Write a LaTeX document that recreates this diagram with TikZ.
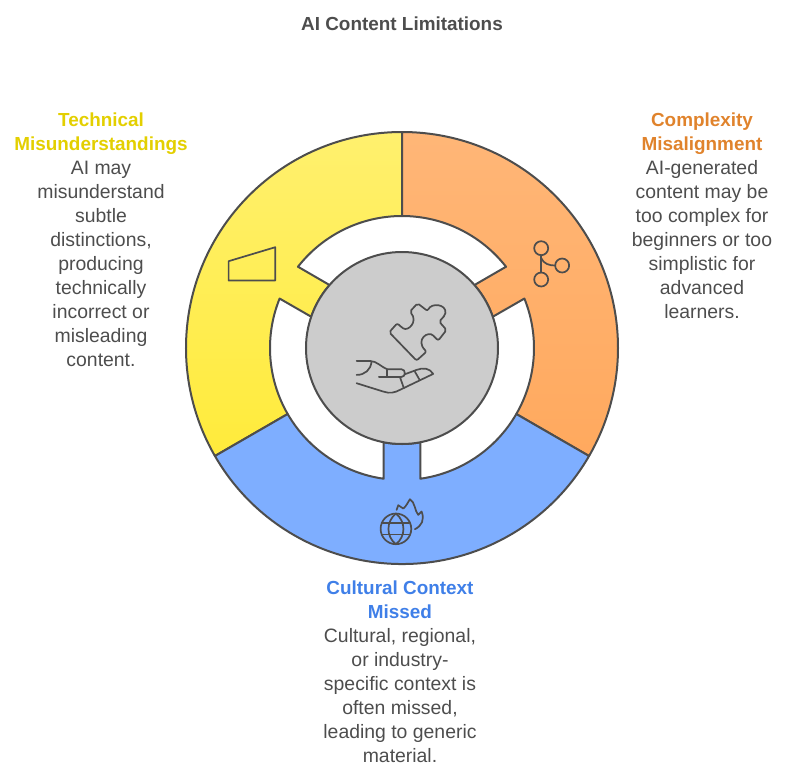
\documentclass[tikz,border=0pt]{standalone}
\usepackage{fontspec}
\setmainfont{Liberation Sans}
\definecolor{edgegray}{HTML}{4D4D4D}
\definecolor{hubgray}{HTML}{CCCCCC}
\definecolor{techyellow}{HTML}{E3CF00}
\definecolor{comporange}{HTML}{E0832C}
\definecolor{cultblue}{HTML}{3F7FE8}
\definecolor{yellowtop}{HTML}{FFF06E}
\definecolor{yellowlow}{HTML}{FFEB3B}
\definecolor{orangetop}{HTML}{FFB677}
\definecolor{orangelow}{HTML}{FFA95E}
\definecolor{bluefill}{HTML}{7EAEFF}
\tikzset{
  seg/.style={draw=edgegray, line width=2pt, line join=round},
  icon/.style={draw=edgegray, line width=1.7pt, line join=round, line cap=round},
  note/.style={anchor=north, align=center, text=edgegray, inner sep=0pt, font=\fontsize{19.4}{24}\selectfont},
}
\newcommand{\headtext}[2]{\textcolor{#1}{\fontsize{18.9}{24}\selectfont\textbf{#2}}}
\begin{document}
\begin{tikzpicture}[x=1pt,y=1pt]
\useasboundingbox (-402,-432) rectangle (390,348);
% ring segments
\draw[seg, top color=yellowtop, bottom color=yellowlow] (90:216) arc (90:210:216) -- (210:132) arc (210:158:132) -- (161:96) arc (161:139:96) -- (142:132) arc (142:90:132) -- cycle;
\draw[seg, top color=orangetop, bottom color=orangelow] (90:216) arc (90:-30:216) -- (-30:132) arc (-30:22:132) -- (19:96) arc (19:41:96) -- (38:132) arc (38:90:132) -- cycle;
\draw[seg, fill=bluefill] (210:216) arc (210:330:216) -- (330:132) arc (330:278:132) -- (281:96) arc (281:259:96) -- (262:132) arc (262:210:132) -- cycle;
\node[circle, draw=edgegray, fill=hubgray, line width=2pt, minimum size=192pt, inner sep=0pt] (hub) at (0,0) {};
% puzzle and hand
\begin{scope}[shift={(-102,68)}, x=0.333pt, y=-0.333pt]
\draw[icon, rounded corners=2pt] (268,157) -- (292,130) -- (305,142) .. controls (325,155) and (355,125) .. (330,95) -- (353,70) -- (383,93) .. controls (395,68) and (440,72) .. (436,105) -- (418,125) -- (440,150) -- (415,182) -- (405,172) .. controls (385,150) and (345,180) .. (380,215) -- (350,242) -- cycle;
\draw[icon] (170,243) -- (210,243) .. controls (230,243) and (245,262) .. (262,268) -- (305,268) .. controls (318,268) and (318,291) .. (305,291) -- (237,291);
\draw[icon] (262,268) -- (262,291);
\draw[icon] (215,245) .. controls (212,270) and (195,285) .. (170,285);
\draw[icon] (170,310) -- (250,335) .. controls (270,342) and (285,338) .. (300,330) -- (400,282) .. controls (390,265) and (370,262) .. (350,270) -- (315,283);
\draw[icon] (300,291) -- (312,325);
\draw[icon] (345,275) -- (358,298);
\end{scope}
% trapezoid
\begin{scope}[shift={(-232,228)}, x=0.333pt, y=-0.333pt]
\draw[icon] (176,424) -- (316,382) -- (316,482) -- (176,482) -- cycle;
\end{scope}
% branch
\begin{scope}[shift={(-2,228)}, x=0.333pt, y=-0.333pt]
\draw[icon] (424,385) circle (21) (487,437) circle (21) (424,479) circle (21);
\draw[icon] (424,406) -- (424,458);
\draw[icon] (424,415) .. controls (432,432) and (448,437) .. (466,437);
\end{scope}
% globe and flame
\begin{scope}[shift={(-62,-52)}, x=0.333pt, y=-0.333pt]
\draw[icon] (168,387) circle (46);
\draw[icon] (168,341) .. controls (138,365) and (138,410) .. (168,433) .. controls (198,410) and (198,365) .. (168,341);
\draw[icon] (128,370) -- (208,370) (128,404) -- (208,404);
\draw[icon] (170,330) -- (175,316) -- (190,326) .. controls (200,318) and (205,305) .. (210,298) .. controls (225,305) and (225,335) .. (235,345) -- (245,335) .. controls (255,360) and (245,378) .. (225,388);
\end{scope}
% labels
\node[font=\fontsize{18.9}{24}\selectfont\bfseries, text=edgegray, inner sep=0pt] (title) at (0,324) {AI Content Limitations};
\node[note] (tech) at (-301,235) {\headtext{techyellow}{Technical}\\\headtext{techyellow}{Misunderstandings}\\AI may\\misunderstand\\subtle\\distinctions,\\producing\\technically\\incorrect or\\misleading\\content.};
\node[note] (comp) at (300,235) {\headtext{comporange}{Complexity}\\\headtext{comporange}{Misalignment}\\AI-generated\\content may be\\too complex for\\beginners or too\\simplistic for\\advanced\\learners.};
\node[note] (cult) at (-2,-233) {\headtext{cultblue}{Cultural Context}\\\headtext{cultblue}{Missed}\\Cultural, regional,\\or industry-\\specific context is\\often missed,\\leading to generic\\material.};
\end{tikzpicture}
\end{document}
